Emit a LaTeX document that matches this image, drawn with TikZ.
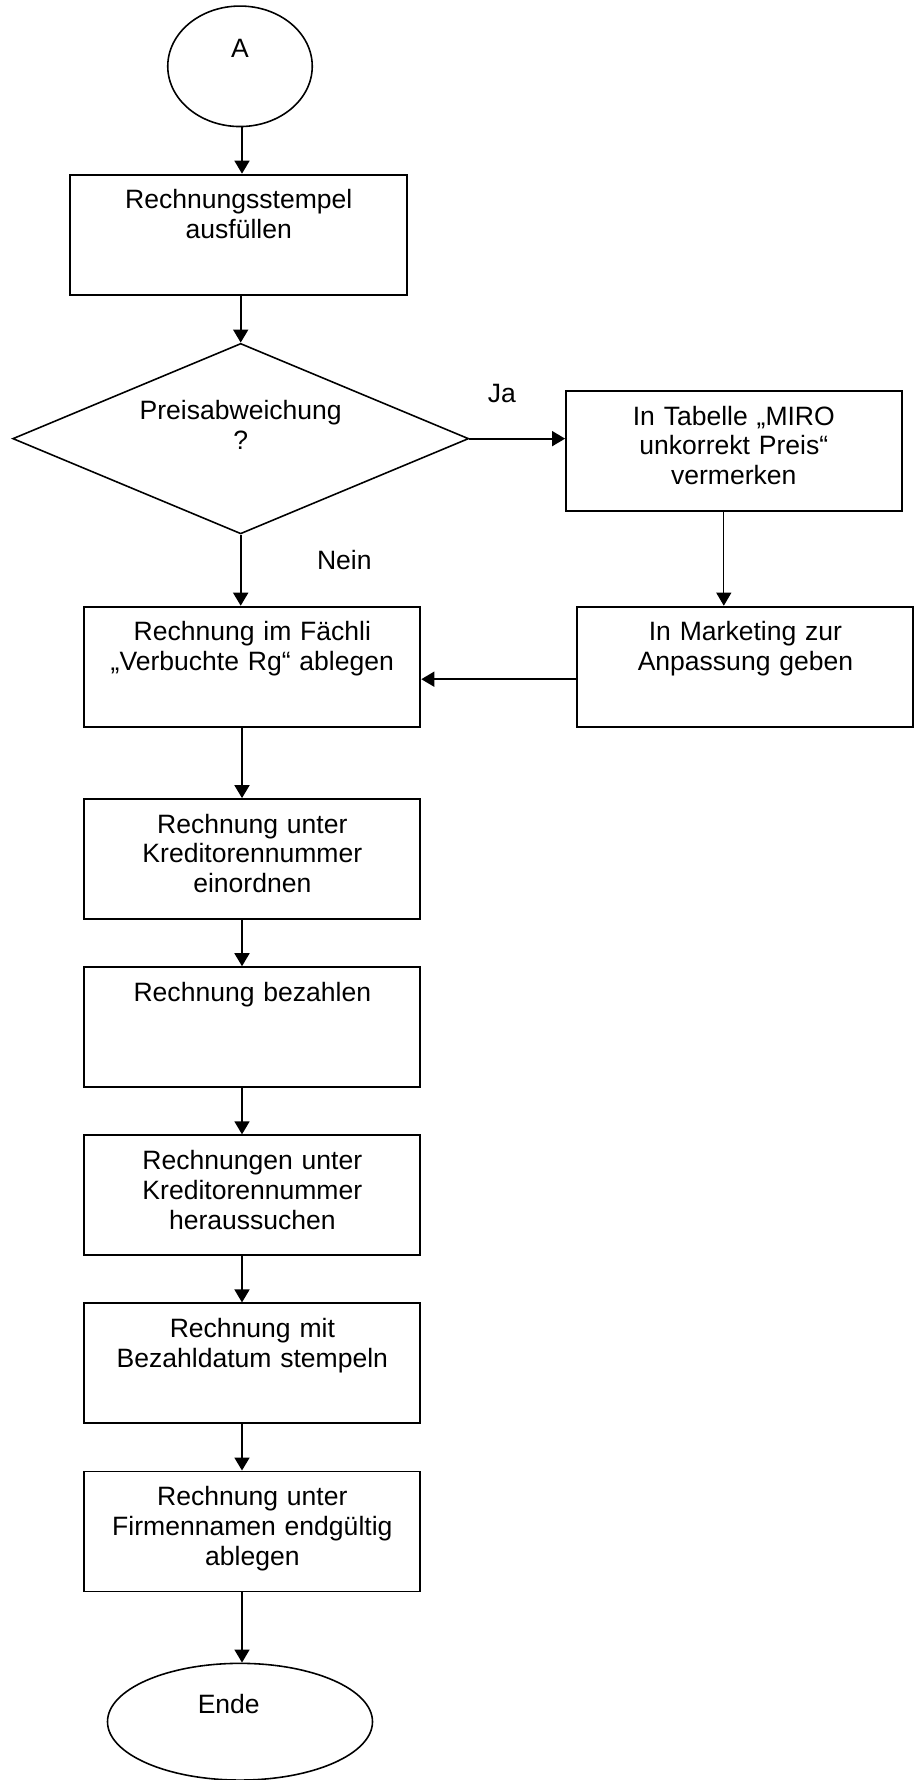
\documentclass[tikz,border=0pt]{standalone}
\usepackage{fontspec}
\setmainfont{Liberation Sans}
\usetikzlibrary{positioning,arrows.meta,shapes.geometric}

\begin{document}
\begin{tikzpicture}[
  every node/.style={font=\fontsize{15.1pt}{17pt}\selectfont},
  proc/.style={draw,line width=1.1pt,rectangle,inner sep=0pt,minimum width=6.72cm,
    text width=6.5cm,align=center,text height=0.68cm,text depth=1.72cm},
  term/.style={draw,line width=0.9pt,ellipse,inner sep=0pt,text height=0.4cm,text depth=0.74cm},
  dec/.style={draw,line width=0.9pt,diamond,inner sep=0pt,aspect=2.39,minimum width=9.12cm,
    minimum height=3.81cm,text width=4.5cm,align=center,text height=0.4cm,text depth=1.146cm},
  fl/.style={line width=1.1pt,-{Triangle[length=7.4pt,width=8.5pt]}}]
\useasboundingbox (0,0) rectangle (18.3,-35.6);
\def\sy{-3.362}
\coordinate (ax) at (4.84,0);
% start, stamp, decision
\node[term,minimum width=2.89cm,minimum height=2.41cm] (A) at (4.8,-1.326) {A};
\node[proc,minimum width=6.74cm] (s1) at (4.776,-4.693) {Rechnungsstempel\\ausfüllen};
\node[dec] (d) at (4.814,-8.773) {Preisabweichung\\?};
% right branch
\node[proc,minimum width=6.71cm] (s2) at (14.676,-9.02) {In Tabelle „MIRO\\unkorrekt Preis“\\vermerken};
\node[proc] (s3) at (14.909,-13.334) {In Marketing zur\\Anpassung geben};
\node[proc] (s4) at (5.047,-13.334) {Rechnung im Fächli\\„Verbuchte Rg“ ablegen};
\foreach \i/\t in {
  5/{Rechnung unter\\Kreditorennummer\\einordnen},
  6/{Rechnung bezahlen},
  7/{Rechnungen unter\\Kreditorennummer\\heraussuchen},
  8/{Rechnung mit\\Bezahldatum stempeln},
  9/{Rechnung unter\\Firmennamen endgültig\\ablegen}}{
    \node[proc] (s\i) at (5.047,{-17.182+(\i-5)*\sy}) {\t};
}
\node[term,minimum width=5.3cm,minimum height=2.334cm] (e) at (4.8,-34.434) {Ende\hspace*{0.45cm}};
\node (ja) at (10.036,-7.866) {Ja};
\node (nein) at (6.886,-11.2) {Nein};
% arrows
\draw[fl] (ax |- A.south) -- (ax |- s1.north);
\draw[fl] (d.north |- s1.south) -- (d.north);
\draw[fl] (d.east) -- (d.east -| s2.west);
\draw[fl,line width=0.6pt] ([xshift=-0.2cm]s2.south) -- ([xshift=-0.2cm]s2.south |- s3.north);
\draw[fl] ([yshift=-0.25cm]s3.west) -- ([yshift=-0.25cm]s4.east);
\draw[fl] (d.south) -- (d.south |- s4.north);
\foreach \a/\b in {4/5,5/6,6/7,7/8,8/9}
  \draw[fl] (ax |- s\a.south) -- (ax |- s\b.north);
\draw[fl] (ax |- s9.south) -- (ax |- e.north);
\end{tikzpicture}
\end{document}
